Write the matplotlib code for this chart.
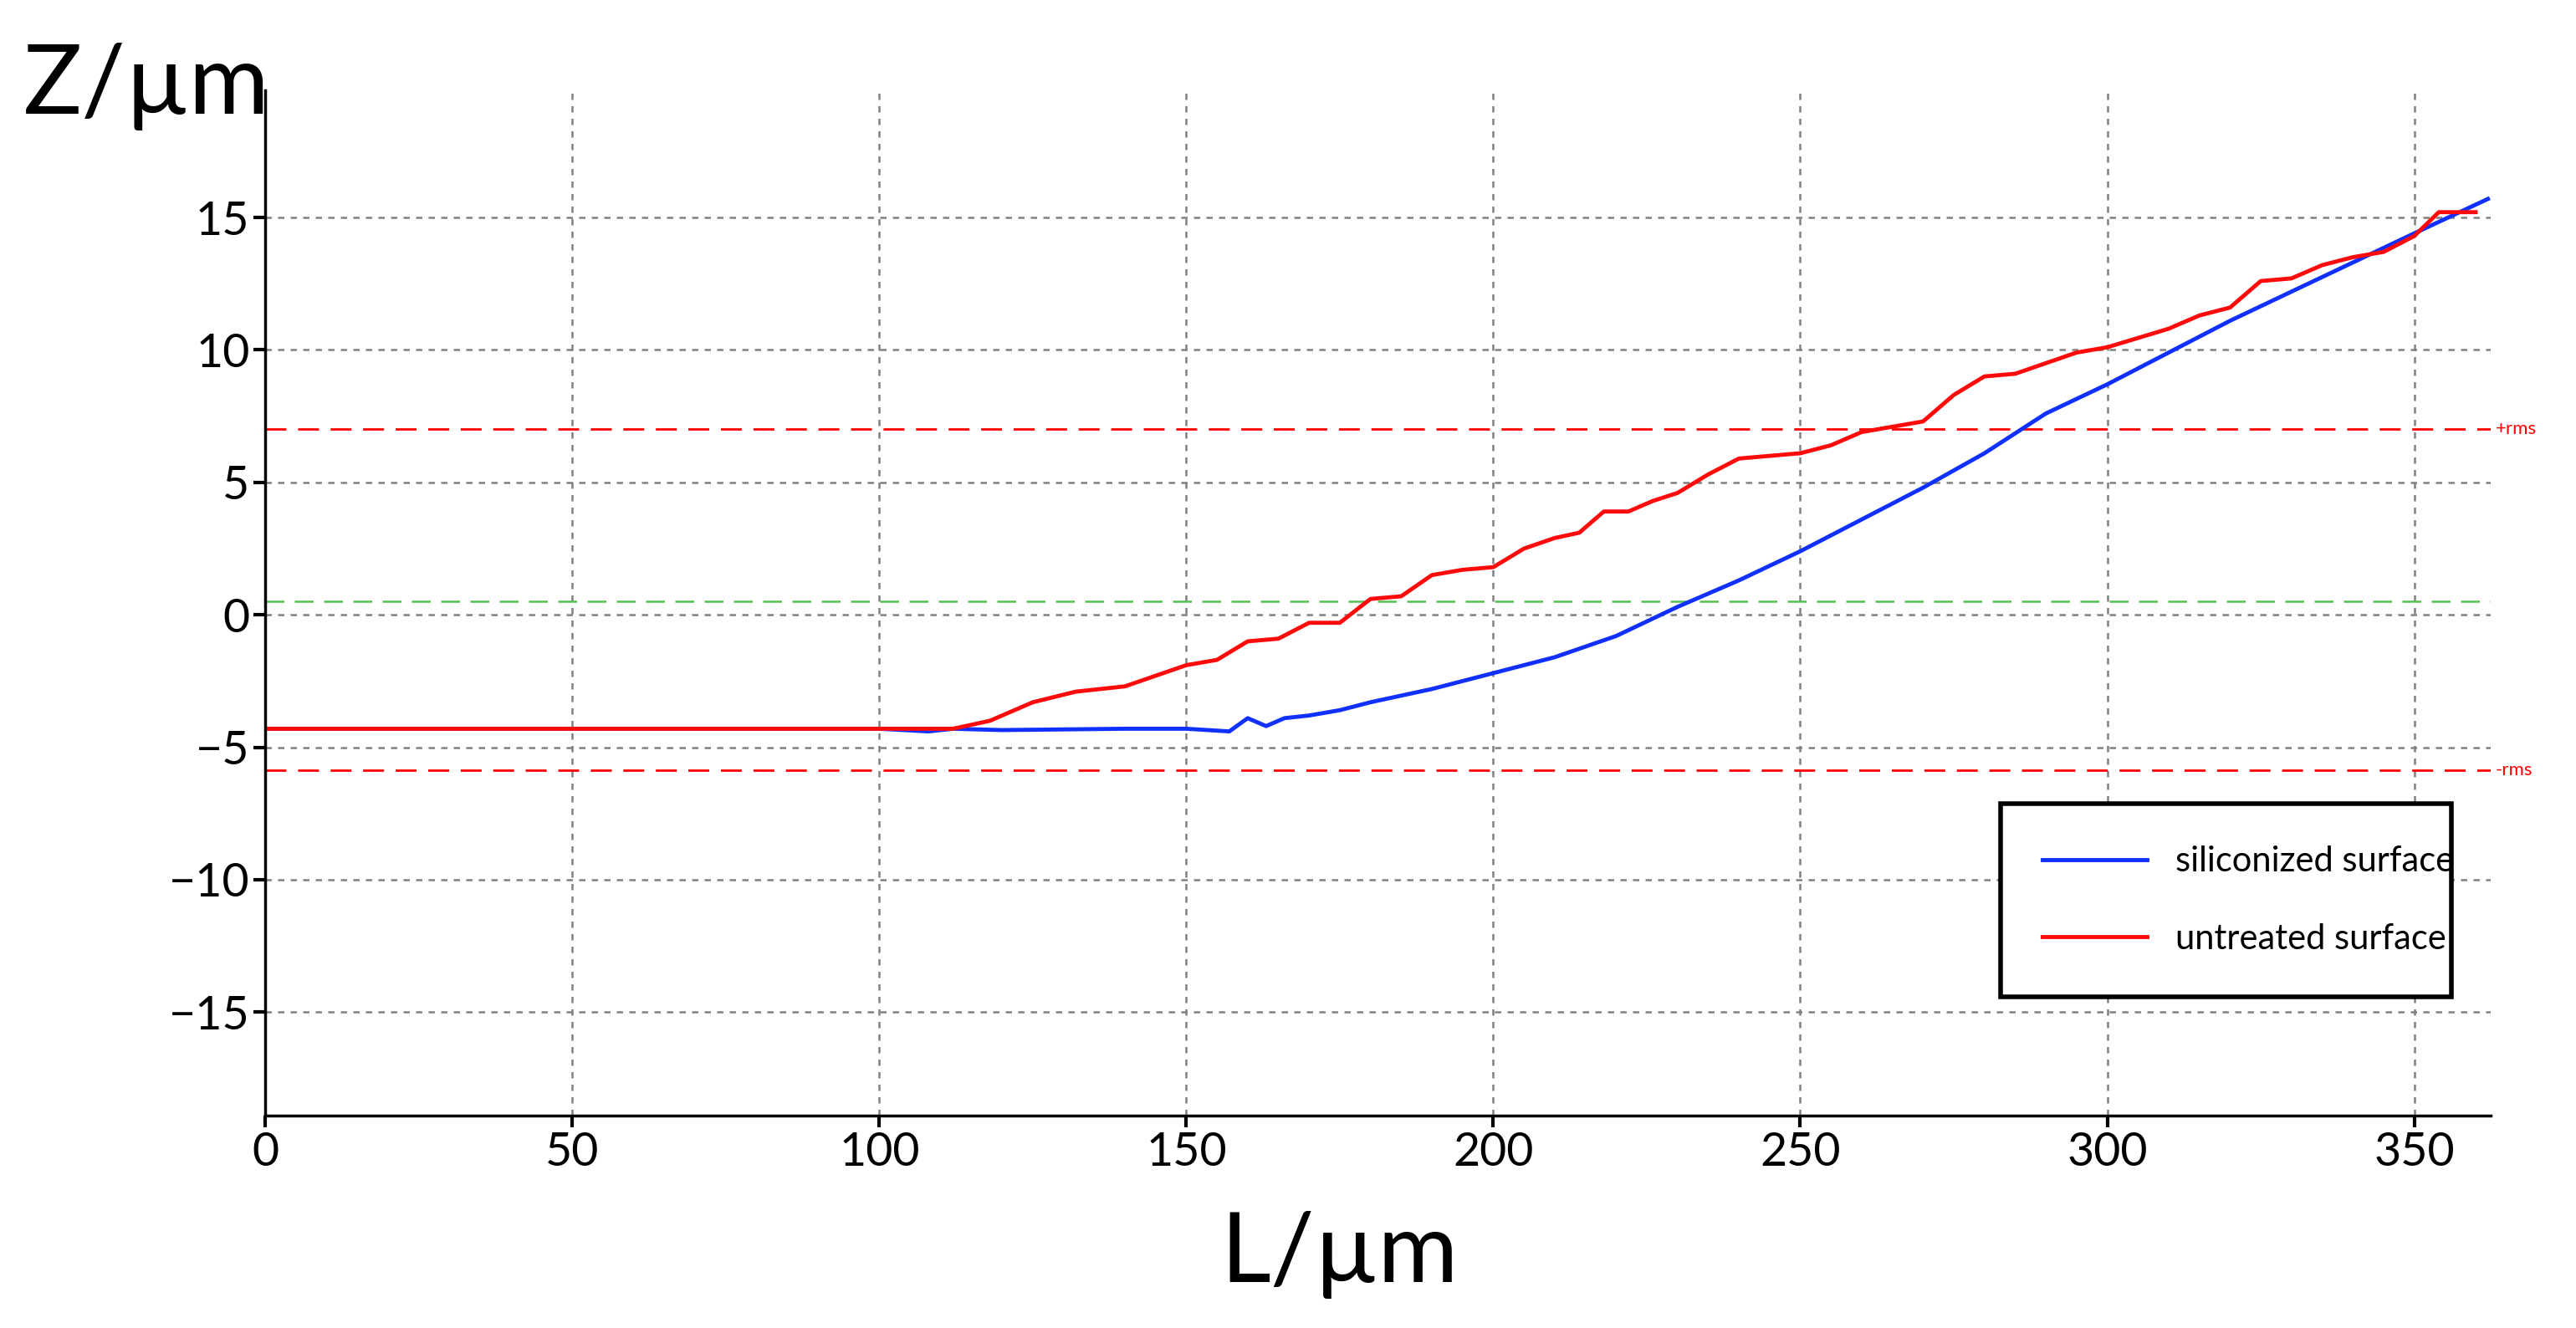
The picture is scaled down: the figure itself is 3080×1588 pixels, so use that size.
import matplotlib.pyplot as plt

plt.rcParams['font.family'] = ['Lato', 'DejaVu Sans']

# siliconized surface
blue_x = [0, 50, 100, 108, 112, 120, 140, 150, 157, 160, 163, 166, 170, 175, 180, 190, 200, 210, 220, 230, 240,
          250, 260, 270, 280, 290, 300, 310, 320, 330, 340, 350, 362]
blue_z = [-4.3, -4.3, -4.3, -4.4, -4.3, -4.35, -4.3, -4.3, -4.4, -3.9, -4.2, -3.9, -3.8, -3.6, -3.3, -2.8, -2.2, -1.6,
          -0.8, 0.3, 1.3, 2.4, 3.6, 4.8, 6.1, 7.6, 8.7, 9.9, 11.1, 12.2, 13.3, 14.4, 15.7]

# untreated surface
red_x = [0, 50, 100, 112, 118, 125, 132, 140, 145, 150, 155, 160, 165, 170, 175, 180, 185, 190, 195, 200, 205,
         210, 214, 218, 222, 226, 230, 235, 240, 245, 250, 255, 260, 265, 270, 275, 280, 285, 290, 295, 300,
         310, 315, 320, 325, 330, 335, 340, 345, 350, 354, 360]
red_z = [-4.3, -4.3, -4.3, -4.3, -4.0, -3.3, -2.9, -2.7, -2.3, -1.9, -1.7, -1.0, -0.9, -0.3, -0.3, 0.6, 0.7, 1.5,
         1.7, 1.8, 2.5, 2.9, 3.1, 3.9, 3.9, 4.3, 4.6, 5.3, 5.9, 6.0, 6.1, 6.4, 6.9, 7.1, 7.3, 8.3, 9.0, 9.1, 9.5,
         9.9, 10.1, 10.8, 11.3, 11.6, 12.6, 12.7, 13.2, 13.5, 13.7, 14.3, 15.2, 15.2]

rms_plus = 7.0
rms_minus = -5.85
mean_line = 0.5

fig = plt.figure(figsize=(30.8, 15.88), dpi=100)
ax = fig.add_axes([0.103, 0.16, 0.864, 0.772])

ax.grid(True, color='#808080', linestyle=(0, (3, 3)), linewidth=1.8)
ax.axhline(rms_plus, color='red', linestyle=(0, (9, 5)), linewidth=2)
ax.axhline(rms_minus, color='red', linestyle=(0, (9, 5)), linewidth=2)
ax.axhline(mean_line, color='#55c050', linestyle=(0, (9, 5)), linewidth=1.8)
ax.text(1.002, rms_plus, '+rms', color='red', fontsize=16, va='center', transform=ax.get_yaxis_transform())
ax.text(1.002, rms_minus, '-rms', color='red', fontsize=16, va='center', transform=ax.get_yaxis_transform())

ax.plot(blue_x, blue_z, color='#1030ff', linewidth=3.5, label='siliconized surface')
ax.plot(red_x, red_z, color='#ff0a0a', linewidth=3.5, label='untreated surface')

ax.set_xlim(0, 362.5)
ax.set_ylim(-18.9, 19.8)
ax.set_xticks(range(0, 351, 50))
ax.set_yticks(range(-15, 16, 5))
ax.tick_params(labelsize=40, width=3, length=10)
for s in ['top', 'right']:
    ax.spines[s].set_visible(False)
for s in ['left', 'bottom']:
    ax.spines[s].set_linewidth(2.5)

leg = ax.legend(loc='center', bbox_to_anchor=(0.772, 0.114, 0.218, 0.192), fontsize=30,
                fancybox=False, edgecolor='black', framealpha=1, labelspacing=1.3,
                handlelength=3, borderpad=1.2, mode='expand')
leg.get_frame().set_linewidth(4)

fig.text(0.057, 0.935, 'Z/µm', fontsize=84, ha='center', va='center')
fig.text(0.52, 0.055, 'L/µm', fontsize=84, ha='center', va='center')

fig.savefig('out.png', dpi=100)
